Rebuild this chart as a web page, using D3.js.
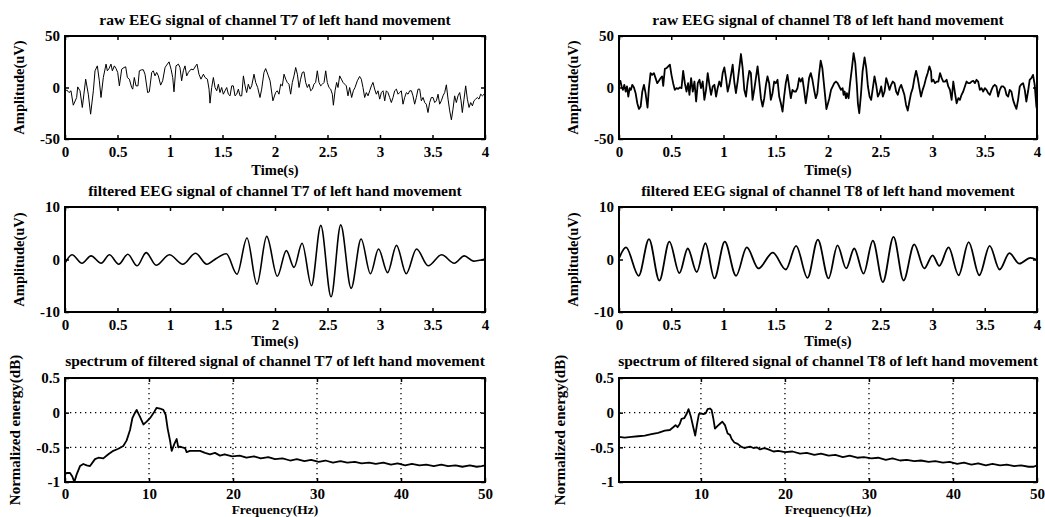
<!DOCTYPE html>
<html>
<head>
<meta charset="utf-8">
<script src="https://cdn.jsdelivr.net/npm/d3@7"></script>
<style>
body { margin: 0; background: #fff; }
text { font-family: "Liberation Serif", "Times New Roman", serif; font-weight: bold; }
</style>
</head>
<body>
<div id="chart"></div>
<script>
/* tick values */
var timeTicks = [0, 0.5, 1, 1.5, 2, 2.5, 3, 3.5, 4];
var freqTicksL = [0, 10, 20, 30, 40, 50];
var freqTicksR = [10, 20, 30, 40, 50];
var rawTicks = [-50, 0, 50];
var filtTicks = [-10, 0, 10];
var specTicks = [-1, -0.5, 0, 0.5];

/* [time(s), amplitude(uV)] */
var rawT7 = [[0,-4.2],[0.016,-2.3],[0.038,-4.9],[0.057,-3.2],[0.079,-17.2],[0.111,-9.7],[0.121,0.6],[0.143,-3.2],[0.165,-19.4],[0.197,8.1],[0.222,-6.5],[0.244,-25.9],[0.27,-3.2],[0.286,16.2],[0.308,21],[0.327,6.5],[0.343,-9.7],[0.365,9.7],[0.391,22.7],[0.403,16.2],[0.419,18.4],[0.438,22.7],[0.451,16.2],[0.47,21],[0.486,18.4],[0.502,14.6],[0.518,1.6],[0.54,17.8],[0.562,19.4],[0.578,20.1],[0.594,9.7],[0.613,8.1],[0.635,0],[0.645,-1.6],[0.66,9.7],[0.676,1.6],[0.695,1.6],[0.708,16.2],[0.73,17.2],[0.746,17.2],[0.762,12.9],[0.787,-4.9],[0.803,-4.2],[0.826,14.6],[0.841,16.2],[0.857,11.3],[0.873,14.6],[0.889,11.3],[0.911,2.3],[0.93,6.5],[0.953,19.4],[0.968,21.7],[0.991,24.9],[1.01,17.8],[1.026,9.7],[1.038,-4.2],[1.057,21],[1.08,22.7],[1.095,19.4],[1.111,6.5],[1.127,16.2],[1.143,21],[1.159,11.3],[1.175,14.6],[1.2,17.8],[1.222,17.2],[1.245,21],[1.257,22.7],[1.276,12.9],[1.295,8.1],[1.318,12.9],[1.334,9.7],[1.356,8.1],[1.372,-1.6],[1.381,-15.2],[1.397,0],[1.413,9.7],[1.429,0],[1.445,-3.2],[1.461,3.2],[1.476,-4.9],[1.492,0],[1.508,-6.5],[1.524,-3.2],[1.54,0],[1.556,-6.5],[1.572,-8.1],[1.588,1.6],[1.603,1.6],[1.619,-8.1],[1.635,-6.5],[1.651,-1.6],[1.667,-8.1],[1.683,-8.1],[1.699,11.3],[1.715,1.6],[1.73,-4.9],[1.746,3.2],[1.762,-1.6],[1.778,1.6],[1.8,12.9],[1.816,4.9],[1.835,0],[1.857,-9.7],[1.873,-1.6],[1.895,14.6],[1.911,18.4],[1.937,11.3],[1.953,6.5],[1.98,-12.9],[2.006,-4.9],[2.022,-3.2],[2.038,-6.5],[2.054,3.2],[2.07,1.6],[2.086,12.9],[2.102,8.1],[2.117,4.9],[2.133,3.2],[2.149,-6.5],[2.165,4.9],[2.181,11.3],[2.197,19.4],[2.213,12.9],[2.229,0],[2.244,8.1],[2.26,14.6],[2.276,15.2],[2.292,4.9],[2.308,0],[2.324,3.2],[2.34,-3.2],[2.356,-1.6],[2.371,3.2],[2.387,4.9],[2.403,16.2],[2.419,4.9],[2.435,1.6],[2.451,3.2],[2.467,4.9],[2.483,16.2],[2.498,4.9],[2.514,0],[2.53,-1.6],[2.546,-6.5],[2.556,-17.2],[2.572,-3.2],[2.587,4.9],[2.6,0],[2.616,11.3],[2.632,8.1],[2.648,4.9],[2.664,3.2],[2.679,1.6],[2.695,-8.1],[2.711,0],[2.73,-9.7],[2.746,-3.2],[2.762,0],[2.784,6.5],[2.806,10.7],[2.822,8.1],[2.838,0],[2.854,-9.7],[2.87,-4.9],[2.886,-8.1],[2.902,-3.2],[2.918,1.6],[2.933,4.9],[2.949,-1.6],[2.965,-6.5],[2.981,-3.2],[2.997,-11.3],[3.013,-4.9],[3.029,-3.2],[3.045,-12.9],[3.06,-3.2],[3.076,-4.9],[3.092,-9.7],[3.108,-14.6],[3.124,-9.7],[3.14,-3.2],[3.156,-1.6],[3.172,-6.5],[3.187,-4.9],[3.203,-3.2],[3.219,-16.2],[3.235,-9.7],[3.251,-4.9],[3.267,-6.5],[3.283,-3.2],[3.299,-3.2],[3.314,-8.1],[3.33,-16.2],[3.346,-9.7],[3.362,-1.6],[3.378,-1.6],[3.394,-12.9],[3.41,-9.7],[3.426,-14.6],[3.441,-16.2],[3.457,-24.3],[3.473,-14.6],[3.489,-9.7],[3.505,-9.7],[3.521,-14.6],[3.537,-12.9],[3.553,-6.5],[3.568,-16.2],[3.584,-12.9],[3.6,-8.1],[3.616,-4.9],[3.632,2.6],[3.648,-11.3],[3.664,-22.7],[3.68,-31.4],[3.695,-21],[3.711,-8.1],[3.727,-14.6],[3.743,-8.1],[3.759,-4.9],[3.772,-12.9],[3.784,-24.3],[3.8,-11.3],[3.816,1.6],[3.832,-11.3],[3.848,-19.4],[3.864,-14.6],[3.88,-17.8],[3.895,-12.9],[3.911,-11.3],[3.927,-9.7],[3.943,-11.3],[3.959,-6.5],[3.975,-8.1],[3.991,-6.5],[4,-4.9]];

var rawT8 = [[0,2.6],[0.013,6.5],[0.025,1],[0.038,-2.3],[0.051,2.6],[0.064,-3.9],[0.076,1],[0.089,-8.8],[0.102,-0.6],[0.114,-2.3],[0.127,2.6],[0.143,0],[0.159,-5.5],[0.175,-15.3],[0.191,-20.8],[0.207,-18.5],[0.223,-3.9],[0.239,2.6],[0.254,-5.5],[0.273,-19.5],[0.286,-0.6],[0.302,14],[0.318,12.3],[0.334,14],[0.35,9.1],[0.366,4.2],[0.382,6.5],[0.398,9.1],[0.413,10.7],[0.423,1.6],[0.439,18.2],[0.455,18.8],[0.471,20.5],[0.487,22.1],[0.502,12.3],[0.518,4.2],[0.534,-2.3],[0.55,-0.6],[0.566,-1.3],[0.582,0],[0.598,-0.6],[0.614,16.2],[0.63,4.2],[0.646,-3.9],[0.661,4.2],[0.674,-7.1],[0.69,9.1],[0.706,-3.9],[0.722,5.8],[0.738,-13.6],[0.754,4.2],[0.77,7.5],[0.785,-0.6],[0.801,5.8],[0.817,-12],[0.833,-2.3],[0.849,14],[0.865,2.6],[0.881,-7.1],[0.897,1],[0.913,2.6],[0.929,-8.8],[0.944,-0.6],[0.96,5.8],[0.976,1],[0.992,14],[1.008,19.5],[1.024,9.1],[1.04,-3.9],[1.056,2.6],[1.072,12.3],[1.088,22.1],[1.103,5.8],[1.119,-5.5],[1.135,5.8],[1.151,18.8],[1.167,32.5],[1.183,18.8],[1.199,-2.3],[1.215,-8.8],[1.231,5.8],[1.247,16.2],[1.262,14],[1.278,-12],[1.294,-2.3],[1.31,9.1],[1.326,20.5],[1.342,5.8],[1.358,-10.4],[1.374,-18.5],[1.39,-10.4],[1.406,2.6],[1.421,10.7],[1.437,4.2],[1.453,-12],[1.469,-5.5],[1.485,5.8],[1.501,4.2],[1.517,7.5],[1.533,-8.8],[1.549,-15.3],[1.565,-23.4],[1.58,-8.8],[1.596,4.2],[1.612,12.3],[1.628,1],[1.644,-10.4],[1.66,-2.3],[1.676,-3.9],[1.692,-3.9],[1.708,-0.6],[1.724,9.1],[1.739,5.8],[1.755,9.1],[1.771,-2.3],[1.787,-15.3],[1.803,-3.9],[1.819,9.1],[1.835,14],[1.851,7.5],[1.867,-2.3],[1.883,-10.4],[1.898,-5.5],[1.914,12.3],[1.93,26],[1.946,18.8],[1.962,2.6],[1.985,-21],[2.013,-10.4],[2.029,-2.3],[2.045,1],[2.06,4.2],[2.076,5.8],[2.092,4.2],[2.108,1],[2.124,-2.3],[2.14,-0.6],[2.149,-7.1],[2.159,-3.9],[2.172,-10.4],[2.181,-5.5],[2.197,-10.4],[2.213,5.8],[2.229,18.8],[2.245,33.4],[2.261,23.7],[2.277,1],[2.286,-15.3],[2.299,-25],[2.315,-7.1],[2.331,15.6],[2.35,29.2],[2.366,18.8],[2.382,1],[2.398,-8.8],[2.413,-12],[2.429,-0.6],[2.445,10.7],[2.461,2.6],[2.477,-8.8],[2.493,-5.5],[2.509,1],[2.525,-8.8],[2.541,-3.9],[2.557,9.1],[2.572,4.2],[2.588,-2.3],[2.604,2.6],[2.62,5.8],[2.636,4.2],[2.652,-3.9],[2.668,-7.1],[2.684,-0.6],[2.7,2.6],[2.716,-2.3],[2.731,-7.1],[2.747,-16.9],[2.763,-22.4],[2.779,-13.6],[2.795,-5.5],[2.811,-0.6],[2.827,9.1],[2.843,16.2],[2.859,9.1],[2.875,-0.6],[2.89,-8.8],[2.906,-2.3],[2.922,2.6],[2.938,9.1],[2.954,14],[2.97,20.5],[2.986,15.6],[2.992,5.8],[3.008,7.5],[3.024,4.2],[3.04,5.8],[3.056,5.8],[3.072,14],[3.088,9.1],[3.103,5.8],[3.119,5.8],[3.135,7.5],[3.151,1],[3.167,-2.3],[3.183,-12],[3.199,5.8],[3.215,-5.5],[3.231,-15.3],[3.247,-10.4],[3.262,-12],[3.278,-7.1],[3.294,-3.9],[3.31,1],[3.326,5.8],[3.342,4.2],[3.358,4.2],[3.374,5.8],[3.39,6.5],[3.406,4.2],[3.421,7.5],[3.437,5.8],[3.453,-2.3],[3.469,-0.6],[3.485,-3.9],[3.501,-0.6],[3.517,-2.3],[3.533,-5.5],[3.549,-7.1],[3.565,-2.3],[3.58,1],[3.596,2.6],[3.612,1],[3.628,-8.8],[3.644,-2.3],[3.66,1],[3.676,1],[3.692,-0.6],[3.708,-7.1],[3.724,-8.8],[3.739,-2.3],[3.755,-3.9],[3.771,-12],[3.787,-16.9],[3.803,-20.8],[3.819,-12],[3.835,1],[3.851,3.2],[3.867,4.2],[3.883,-2.3],[3.898,-13.6],[3.914,-3.9],[3.93,7.5],[3.946,9.1],[3.962,12.3],[3.978,2.6],[3.994,-18.5],[4,-20.8]];

/* filtered signals: turning points, [time(s), amplitude(uV)] */
var filtT7 = [[0,-0.7],[0.067,0.9],[0.162,-0.7],[0.248,0.7],[0.344,-0.7],[0.423,0.9],[0.512,-0.9],[0.598,1.0],[0.687,-1.2],[0.773,1.3],[0.868,-1.1],[0.995,0.9],[1.122,-0.9],[1.243,1.2],[1.351,-0.9],[1.44,0.2],[1.536,1.1],[1.638,-2.8],[1.733,4.1],[1.828,-4.7],[1.921,4.4],[2.022,-3.2],[2.108,1.7],[2.181,-1.5],[2.258,3.1],[2.347,-5.0],[2.436,6.5],[2.534,-7.1],[2.626,6.6],[2.725,-5.5],[2.82,3.9],[2.909,-2.7],[2.986,2.0],[3.072,-2.5],[3.157,2.7],[3.25,-2.7],[3.348,2.0],[3.459,-1.2],[3.587,0.9],[3.707,-0.7],[3.803,0.7],[3.889,-0.3],[4,0.1]];

var filtT8 = [[0,0.2],[0.067,2.3],[0.188,-3.1],[0.287,3.9],[0.386,-4.0],[0.482,3.4],[0.578,-2.6],[0.658,2.1],[0.744,-2.4],[0.827,3.1],[0.913,-3.6],[1.012,3.4],[1.12,-3.1],[1.223,2.3],[1.334,-1.7],[1.472,1.3],[1.596,-1.9],[1.695,2.6],[1.804,-3.5],[1.903,3.8],[2.005,-3.6],[2.091,2.7],[2.174,-1.7],[2.251,2.1],[2.34,-2.7],[2.429,3.6],[2.525,-4.3],[2.627,4.3],[2.723,-4.0],[2.825,2.9],[2.921,-1.7],[3.001,0.8],[3.065,-1.2],[3.154,2.3],[3.25,-3.0],[3.346,3.3],[3.448,-3.0],[3.547,2.6],[3.642,-1.9],[3.736,1.2],[3.831,-0.8],[3.936,0.3],[4,-0.1]];

/* spectra: [frequency(Hz), normalized energy(dB)] */
var specT7 = [[0,-0.89],[0.2,-0.87],[0.6,-0.87],[0.87,-0.92],[1.11,-1.0],[1.39,-0.89],[1.79,-0.77],[2.18,-0.74],[2.58,-0.76],[2.98,-0.77],[3.57,-0.67],[3.97,-0.65],[4.56,-0.66],[5.16,-0.6],[5.75,-0.55],[6.35,-0.52],[6.94,-0.48],[7.34,-0.4],[7.74,-0.25],[8.02,-0.08],[8.25,-0.02],[8.53,0.04],[8.93,-0.06],[9.33,-0.17],[9.72,-0.13],[10.12,-0.08],[10.52,-0.01],[10.91,0.07],[11.31,0.06],[11.71,0.04],[11.98,-0.03],[12.22,-0.23],[12.5,-0.4],[12.7,-0.55],[13.02,-0.45],[13.29,-0.38],[13.49,-0.5],[13.69,-0.49],[13.97,-0.5],[14.29,-0.51],[14.48,-0.57],[14.88,-0.55],[15.48,-0.55],[16.07,-0.55],[16.67,-0.58],[17.26,-0.6],[17.86,-0.58],[18.45,-0.62],[19.0,-0.6],[19.9,-0.63],[20.8,-0.62],[21.6,-0.65],[22.5,-0.63],[23.3,-0.66],[24.2,-0.64],[25.0,-0.67],[25.9,-0.66],[26.8,-0.69],[27.6,-0.67],[28.5,-0.7],[29.3,-0.68],[30.2,-0.71],[31.0,-0.69],[31.9,-0.72],[32.8,-0.7],[33.6,-0.72],[34.5,-0.71],[35.3,-0.73],[36.2,-0.72],[37.0,-0.74],[37.9,-0.72],[38.8,-0.75],[39.6,-0.73],[40.5,-0.76],[41.3,-0.74],[42.2,-0.76],[43.0,-0.75],[43.9,-0.77],[44.8,-0.75],[45.6,-0.77],[46.5,-0.76],[47.3,-0.78],[48.2,-0.76],[49.0,-0.78],[49.6,-0.77],[50,-0.76]];

var specT8 = [[0.25,-0.35],[0.93,-0.36],[1.73,-0.35],[2.52,-0.34],[3.32,-0.33],[4.11,-0.31],[4.91,-0.29],[5.7,-0.26],[6.3,-0.25],[6.7,-0.21],[6.98,-0.18],[7.22,-0.21],[7.49,-0.16],[7.69,-0.09],[8.01,-0.08],[8.29,-0.02],[8.53,0.05],[8.81,-0.06],[9.09,-0.21],[9.32,-0.33],[9.52,-0.18],[9.76,-0.02],[10.0,-0.01],[10.28,-0.02],[10.56,-0.01],[10.8,0.05],[11.07,0.06],[11.27,0.04],[11.47,-0.08],[11.67,-0.23],[11.99,-0.19],[12.27,-0.16],[12.55,-0.13],[12.86,-0.18],[13.18,-0.3],[13.46,-0.32],[13.66,-0.38],[13.98,-0.43],[14.38,-0.45],[14.77,-0.49],[15.17,-0.51],[15.45,-0.5],[15.85,-0.49],[16.25,-0.51],[16.64,-0.5],[17.04,-0.53],[17.56,-0.51],[18.04,-0.53],[18.63,-0.56],[19.2,-0.55],[20.0,-0.57],[20.9,-0.56],[21.8,-0.59],[22.6,-0.58],[23.5,-0.61],[24.3,-0.59],[25.2,-0.62],[26.0,-0.61],[26.9,-0.64],[27.7,-0.62],[28.6,-0.65],[29.4,-0.64],[30.3,-0.66],[31.1,-0.65],[32.0,-0.68],[32.8,-0.66],[33.7,-0.69],[34.5,-0.68],[35.4,-0.7],[36.2,-0.69],[37.1,-0.71],[37.9,-0.7],[38.8,-0.72],[39.6,-0.71],[40.5,-0.74],[41.3,-0.72],[42.2,-0.75],[43.0,-0.73],[43.9,-0.76],[44.7,-0.74],[45.6,-0.76],[46.4,-0.75],[47.3,-0.77],[48.1,-0.76],[49.0,-0.78],[49.6,-0.78],[50,-0.76]];

/* layout */
var width = 1045, height = 517;
var cols = [{ left: 65, right: 485 }, { left: 619, right: 1037 }];
var rows = [{ top: 36, bottom: 139, title: 25, xlab: 175, xlabSize: 14.5, pad: 7 },
            { top: 207, bottom: 312, title: 196, xlab: 346, xlabSize: 14.5, pad: 7 },
            { top: 378, bottom: 482, title: 366, xlab: 514, xlabSize: 13.5, pad: 6 }];

var svg = d3.select("#chart")
            .append("svg")
            .attr("width", width)
            .attr("height", height);

function styleAxis(sel) {
  sel.attr("font-family", null)
     .attr("font-size", 15)
     .attr("font-weight", "bold");
  sel.select(".domain").remove();
  sel.selectAll(".tick line").attr("stroke-width", 1.5);
  sel.selectAll(".tick text").attr("fill", "#000");
}

function panel(cfg) {
  var c = cols[cfg.col], r = rows[cfg.row];
  var x = d3.scaleLinear().domain(cfg.xDomain).range([c.left, c.right]);
  var y = d3.scaleLinear().domain(cfg.yDomain).range([r.bottom, r.top]);
  var g = svg.append("g");
  var fmt = function (d) { return String(d); };

  // dotted grid for the spectra
  if (cfg.grid) {
    g.selectAll()
     .data(cfg.xTicks.filter(function (d) { return d > cfg.xDomain[0] && d < cfg.xDomain[1]; }))
     .enter()
     .append("line")
     .attr("x1", function (d) { return x(d); })
     .attr("x2", function (d) { return x(d); })
     .attr("y1", r.top)
     .attr("y2", r.bottom)
     .attr("stroke", "#000")
     .attr("stroke-width", 1.3)
     .attr("stroke-dasharray", "1.3,3.7");
    g.selectAll()
     .data(cfg.yTicks.filter(function (d) { return d > cfg.yDomain[0] && d < cfg.yDomain[1]; }))
     .enter()
     .append("line")
     .attr("x1", c.left)
     .attr("x2", c.right)
     .attr("y1", function (d) { return y(d); })
     .attr("y2", function (d) { return y(d); })
     .attr("stroke", "#000")
     .attr("stroke-width", 1.3)
     .attr("stroke-dasharray", "1.3,3.7");
  }

  g.append("path")
   .datum(cfg.data)
   .attr("fill", "none")
   .attr("stroke", "#000")
   .attr("stroke-width", cfg.lw)
   .attr("stroke-linejoin", "round")
   .attr("d", d3.line()
                .x(function (d) { return x(d[0]); })
                .y(function (d) { return y(d[1]); })
                .curve(cfg.curve || d3.curveLinear));

  g.append("g")
   .attr("transform", "translate(0," + r.bottom + ")")
   .call(d3.axisBottom(x).tickValues(cfg.xTicks).tickSize(-4).tickPadding(r.pad).tickFormat(fmt))
   .call(styleAxis);
  g.append("g")
   .attr("transform", "translate(0," + r.top + ")")
   .call(d3.axisTop(x).tickValues(cfg.xTicks).tickSize(-4).tickFormat(""))
   .call(styleAxis);
  g.append("g")
   .attr("transform", "translate(" + c.left + ",0)")
   .call(d3.axisLeft(y).tickValues(cfg.yTicks).tickSize(-4).tickPadding(5).tickFormat(fmt))
   .call(styleAxis);
  g.append("g")
   .attr("transform", "translate(" + c.right + ",0)")
   .call(d3.axisRight(y).tickValues(cfg.yTicks).tickSize(-4).tickFormat(""))
   .call(styleAxis);

  // axes box
  g.append("rect")
   .attr("x", c.left)
   .attr("y", r.top)
   .attr("width", c.right - c.left)
   .attr("height", r.bottom - r.top)
   .attr("fill", "none")
   .attr("stroke", "#000")
   .attr("stroke-width", 2);

  var cx = (c.left + c.right) / 2;
  g.append("text")
   .attr("x", cx)
   .attr("y", r.title)
   .attr("text-anchor", "middle")
   .attr("font-size", 15.5)
   .text(cfg.title);
  g.append("text")
   .attr("x", cx)
   .attr("y", r.xlab)
   .attr("text-anchor", "middle")
   .attr("font-size", r.xlabSize)
   .text(cfg.xLabel);
  g.append("text")
   .attr("transform", "translate(" + (c.left + cfg.yLabOff) + "," + ((r.top + r.bottom) / 2) + ") rotate(-90)")
   .attr("text-anchor", "middle")
   .attr("font-size", cfg.yLabSize)
   .text(cfg.yLabel);
}

panel({ col: 0, row: 0, data: rawT7, lw: 1, xDomain: [0, 4], yDomain: [-50, 50], xTicks: timeTicks, yTicks: rawTicks,
        title: "raw EEG signal of channel T7 of left hand movement", xLabel: "Time(s)", yLabel: "Amplitude(uV)", yLabOff: -41, yLabSize: 14.5 });
panel({ col: 1, row: 0, data: rawT8, lw: 1.8, xDomain: [0, 4], yDomain: [-50, 50], xTicks: timeTicks, yTicks: rawTicks,
        title: "raw EEG signal of channel T8 of left hand movement", xLabel: "Time(s)", yLabel: "Amplitude(uV)", yLabOff: -41, yLabSize: 14.5 });
panel({ col: 0, row: 1, data: filtT7, lw: 1.6, curve: d3.curveMonotoneX, xDomain: [0, 4], yDomain: [-10, 10], xTicks: timeTicks, yTicks: filtTicks,
        title: "filtered EEG signal of channel T7 of left hand movement", xLabel: "Time(s)", yLabel: "Amplitude(uV)", yLabOff: -41, yLabSize: 14.5 });
panel({ col: 1, row: 1, data: filtT8, lw: 1.8, curve: d3.curveMonotoneX, xDomain: [0, 4], yDomain: [-10, 10], xTicks: timeTicks, yTicks: filtTicks,
        title: "filtered EEG signal of channel T8 of left hand movement", xLabel: "Time(s)", yLabel: "Amplitude(uV)", yLabOff: -41, yLabSize: 14.5 });
panel({ col: 0, row: 2, data: specT7, lw: 1.8, grid: true, xDomain: [0, 50], yDomain: [-1, 0.5], xTicks: freqTicksL, yTicks: specTicks,
        title: "spectrum of filtered signal of channel T7 of left hand movement", xLabel: "Frequency(Hz)", yLabel: "Normalized energy(dB)", yLabOff: -45, yLabSize: 15 });
panel({ col: 1, row: 2, data: specT8, lw: 1.8, grid: true, xDomain: [0.25, 50], yDomain: [-1, 0.5], xTicks: freqTicksR, yTicks: specTicks,
        title: "spectrum of filtered signal of channel T8 of left hand movement", xLabel: "Frequency(Hz)", yLabel: "Normalized energy(dB)", yLabOff: -54, yLabSize: 15 });
</script>
</body>
</html>
